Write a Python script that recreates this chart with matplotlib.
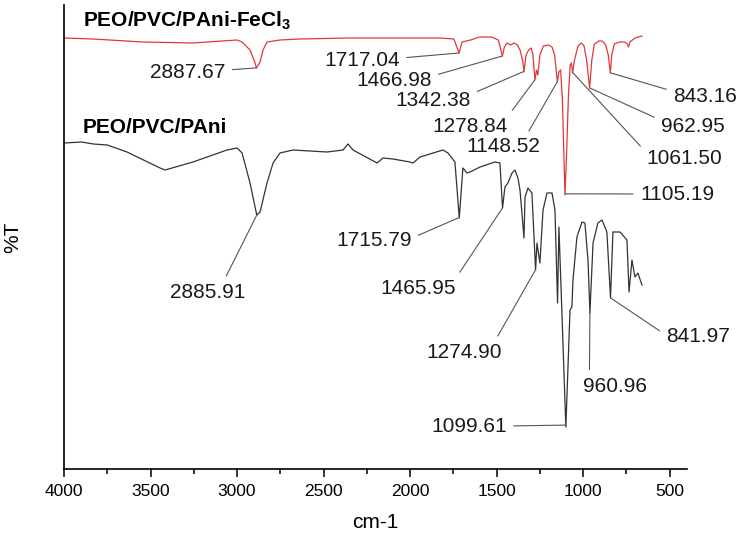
import numpy as np
import matplotlib
matplotlib.use('Agg')
import matplotlib.pyplot as plt

plt.rcParams['font.family'] = ['Liberation Sans', 'DejaVu Sans']
plt.rcParams['mathtext.default'] = 'regular'

# ── Spectra (wavenumber cm-1, %T in arbitrary offset units) ──────────────────
wn_fecl3 = [4000, 3832, 3544, 3255, 3000, 2971, 2925, 2896, 2888, 2867, 2850,
            2827, 2752, 2636, 2347, 2059, 1827, 1747, 1717, 1700, 1650, 1600,
            1530, 1490, 1467, 1455, 1440, 1420, 1400, 1380, 1365, 1350, 1342,
            1330, 1315, 1300, 1290, 1279, 1270, 1262, 1250, 1230, 1200, 1180,
            1165, 1149, 1140, 1130, 1120, 1105, 1095, 1085, 1075, 1068, 1061,
            1050, 1030, 1010, 995, 980, 963, 950, 935, 910, 890, 870, 855, 843,
            835, 820, 790, 760, 745, 738, 730, 700, 680, 660]
t_fecl3 = [431, 430, 427, 426, 429, 427, 419, 406, 401, 407, 419,
           427, 429, 430, 431, 431, 431, 430, 416, 427, 429, 432,
           432, 429, 413, 422, 426, 424, 426, 424, 419, 409, 397,
           414, 419, 421, 414, 389, 399, 394, 414, 423, 424, 422,
           414, 387, 397, 399, 369, 274, 319, 374, 404, 406, 396,
           409, 423, 426, 423, 409, 381, 409, 425, 428, 428, 424, 414, 396,
           414, 425, 427, 427, 425, 422, 427, 431, 432, 433]

wn_pani = [4000, 3900, 3830, 3750, 3636, 3445, 3416, 3255, 3058, 3000, 2971,
           2925, 2896, 2886, 2867, 2827, 2792, 2752, 2677, 2480, 2388, 2359,
           2330, 2191, 2157, 2099, 2001, 1983, 1943, 1810, 1781, 1741, 1716,
           1695, 1672, 1654, 1596, 1510, 1481, 1466, 1452, 1435, 1411, 1394,
           1377, 1365, 1342, 1336, 1319, 1296, 1275, 1267, 1250, 1232, 1209,
           1180, 1163, 1148, 1140, 1100, 1076, 1065, 1059, 1036, 1007, 990,
           972, 961, 943, 915, 891, 863, 842, 828, 787, 747, 735, 718, 701,
           684, 660]
t_pani = [326, 327, 325, 324, 317, 301, 299, 307, 319, 321, 316,
          286, 262, 254, 257, 286, 306, 316, 319, 317, 319, 325,
          319, 306, 311, 310, 307, 306, 312, 319, 316, 307, 251,
          301, 296, 297, 302, 307, 306, 261, 282, 286, 296, 299,
          291, 279, 231, 272, 281, 276, 199, 226, 206, 259, 276,
          276, 259, 166, 242, 42, 159, 162, 189, 232, 247, 246,
          209, 156, 226, 246, 249, 237, 171, 237, 237, 229, 177, 209, 192,
          196, 184]

# ── Peak labels ───────────────────────────────────────────────────────────────
peaks_fecl3 = [2887.67, 1717.04, 1466.98, 1342.38, 1278.84, 1148.52,
               1105.19, 1061.50, 962.95, 843.16]
peaks_pani = [2885.91, 1715.79, 1465.95, 1274.90, 1099.61, 960.96, 841.97]

# label placement (layout only)
txt_fecl3 = [(3284, 397), (2278, 409), (2093, 389), (1868, 369), (1654, 343),
             (1463, 322), (458, 275), (418, 311), (366, 343), (296, 372)]
rel_fecl3 = [(1, 0.6), (1, 0.6), (1, 0.7), (1, 0.8), (1, 1), (0.8, 1),
             (0, 0.5), (0, 0.8), (0, 0.8), (0, 0.8)]
txt_pani = [(3168, 177), (2209, 229), (1955, 181), (1689, 117), (1660, 43),
            (816, 83), (337, 132)]
rel_pani = [(0.7, 1), (1, 0.6), (1, 1), (0.9, 1), (1, 0.5), (0.1, 1),
            (0, 0.6)]

fig = plt.figure(figsize=(7.41, 5.38), dpi=100)
ax = fig.add_axes([64 / 741, 69 / 538, 623 / 741, 464 / 538])

ax.plot(wn_fecl3, t_fecl3, color='#e0383a', lw=0.9)
ax.plot(wn_pani, t_pani, color='#333333', lw=0.9)


def label_peaks(peaks, wn, t, txt, rel):
    for p, (tx, ty), rp in zip(peaks, txt, rel):
        py = np.interp(-p, -np.array(wn), np.array(t))
        ax.annotate(f'{p:.2f}', xy=(p, py), xytext=(tx, ty),
                    ha='center', va='center', fontsize=15, color='#1a1a1a',
                    arrowprops=dict(arrowstyle='-', color='#555555', lw=0.8,
                                    shrinkA=3, shrinkB=0, relpos=rp))


label_peaks(peaks_fecl3, wn_fecl3, t_fecl3, txt_fecl3, rel_fecl3)
label_peaks(peaks_pani, wn_pani, t_pani, txt_pani, rel_pani)

ax.text(3890, 442, r'PEO/PVC/PAni-FeCl$_3$', fontsize=15, fontweight='bold',
        ha='left', va='baseline')
ax.text(3890, 336, 'PEO/PVC/PAni', fontsize=15, fontweight='bold',
        ha='left', va='baseline')

ax.set_xlim(4000, 400)
ax.set_ylim(0, 464)
ax.set_xticks([4000, 3500, 3000, 2500, 2000, 1500, 1000, 500])
ax.set_xticks(np.arange(3750, 400, -500), minor=True)
ax.set_yticks([])
ax.tick_params(axis='x', which='major', length=6, width=1.1, labelsize=12.5,
               pad=5, direction='out')
ax.tick_params(axis='x', which='minor', length=3.5, width=1.1, direction='out')
for s in ['top', 'right']:
    ax.spines[s].set_visible(False)
for s in ['left', 'bottom']:
    ax.spines[s].set_linewidth(1.2)
ax.set_xlabel('cm-1', fontsize=15, labelpad=10)
ax.set_ylabel('%T', fontsize=15, labelpad=30)

fig.savefig('out.png', dpi=100)
